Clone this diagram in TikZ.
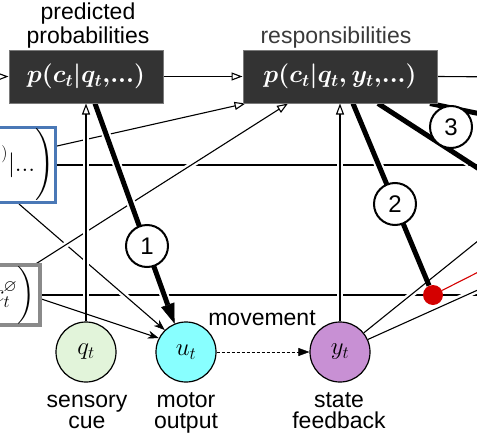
\documentclass[tikz,border=0pt]{standalone}
\usepackage{amsmath,amssymb}
\usepackage{fontspec}
\setmainfont{Liberation Sans}
\usetikzlibrary{arrows.meta}
\definecolor{qfill}{HTML}{E2F4DA}
\definecolor{ufill}{HTML}{88FFFF}
\definecolor{yfill}{HTML}{C890D4}
\definecolor{boxfill}{HTML}{333333}
\definecolor{boxedge}{HTML}{7A7A7A}
\definecolor{blueedge}{HTML}{4A78B6}
\definecolor{grayedge}{HTML}{8A8A8A}
\definecolor{reddot}{HTML}{D40000}
\definecolor{txtgray}{HTML}{3A3A3A}
\pgfdeclarelayer{edges}
\pgfsetlayers{edges,main}
\begin{document}
\begin{tikzpicture}[x=1pt,y=-1pt,
  dark/.style={draw=boxedge, line width=1pt, fill=boxfill, text=white, minimum height=53pt, inner sep=0pt, font=\fontsize{24}{28}\selectfont\boldmath},
  var/.style={circle, draw=black, line width=1.2pt, minimum size=60pt, inner sep=0pt, font=\fontsize{24}{28}\selectfont},
  lbl/.style={font=\fontsize{23}{21}\selectfont, align=center, inner sep=0pt, anchor=base},
  num/.style={circle, draw=black, fill=white, line width=2pt, minimum size=42pt, inner sep=0pt, font=\fontsize{24}{28}\selectfont},
  leftbox/.style={fill=white, line width=3.5pt, anchor=east, minimum height=53pt, inner ysep=0pt, font=\fontsize{24}{28}\selectfont},
  thinln/.style={line width=1.1pt, preaction={draw=white, line width=6pt, -, shorten <=12pt, shorten >=14pt}},
  thickln/.style={line width=5pt, preaction={draw=white, line width=9pt, -, shorten <=4pt, shorten >=24pt}},
  openarr/.style={-{Triangle[length=11pt,width=8pt,fill=white,line width=1.1pt]}},
  stealtharr/.style={-{Stealth[length=11pt,width=8pt,line width=0.5pt]}},
  bigarr/.style={-{Triangle[length=20pt,width=14pt,line width=0.5pt]}},
  redln/.style={draw=reddot, line width=1.1pt},
  dasharr/.style={line width=1pt, dash pattern=on 3pt off 2pt, -{Triangle[length=11pt,width=8pt,line width=0.5pt]}}
]
\useasboundingbox (0,0) rectangle (477,434);
\clip (0,0) rectangle (477,434);

% boxes and labels
\node[dark, minimum width=154pt] (b1) at (86,76.5) {$p(c_t|q_t{,}{.}{.}{.})$};
\node[dark, minimum width=194pt] (b2) at (340,76.5) {$p(c_t|q_t,y_t{,}{.}{.}{.})$};
\node[lbl, font=\fontsize{23}{24}\selectfont] (lp) at (88,43) {predicted\\probabilities};
\node[lbl, text=txtgray] (lr) at (336,43) {responsibilities};

\node[leftbox, draw=blueedge, inner xsep=1pt] (bl) at (57,165) {$p\Bigg(c_t^{(j)}|{.}{.}{.}\Bigg)$};
\node[leftbox, draw=grayedge, inner xsep=5pt] (gr) at (41.5,295) {$p\bigg(c^{\varnothing}_t\bigg)$};

\node[var, fill=qfill] (q) at (86,352) {$q_t$};
\node[var, fill=ufill] (u) at (186,352) {$u_t$};
\node[var, fill=yfill] (y) at (340,352) {$y_t$};
\node[lbl] (lq) at (87,428) {sensory\\cue};
\node[lbl] (lu) at (186,428) {motor\\output};
\node[lbl] (ly) at (339,428) {state\\feedback};
\node[lbl] (mv) at (262,325) {movement};

\node[num] (n1) at (147,246) {1};
\node[num] (n2) at (395,204) {2};
\node[num] (n3) at (451,127) {3};
\node[circle, fill=reddot, minimum size=20pt, inner sep=0pt] (rd) at (433,295) {};

\coordinate (inL) at (-30,77);
\coordinate (outR1) at (510,77);
\coordinate (outH1) at (510,165);
\coordinate (outH2) at (510,295);
\coordinate (outD1) at (540,191);
\coordinate (outD2) at (540,262);
\coordinate (outA) at (490,176);
\coordinate (outB) at (510,120);
\coordinate (outR) at (510,256);

\begin{pgfonlayer}{edges}
\clip (0,0) rectangle (477,434);
% horizontal flows
\draw[thinln, openarr] (inL) -- (b1.west);
\draw[thinln, openarr] (b1.east) -- (b2.west);
\draw[thinln] (b2.east) -- (outR1);
\draw[thinln] (bl.east) -- (outH1);
\draw[thinln] (gr.east) -- (outH2);
% diagonals
\draw[thinln, openarr] ([yshift=19pt]bl.east) -- ([xshift=3pt]b2.south west);
\draw[thinln, stealtharr] ([xshift=-38pt]bl.south east) -- (u.134);
\draw[thinln, openarr] ([xshift=-5pt]gr.north east) -- ([xshift=-52pt]b2.south);
\draw[thinln, stealtharr] ([yshift=-4pt]gr.east) -- (u.153);
\draw[thinln] (y) -- (outD1);
\draw[thinln] (y) -- (outD2);
% verticals
\draw[thinln, openarr] (q) -- (q |- b1.south);
\draw[thinln, openarr] (y) -- (b2.south);
% thick
\draw[thickln, bigarr] ([xshift=9pt]b1.south) -- (u.112);
\draw[thickln] ([xshift=13pt]b2.south) -- (rd);
\draw[thickln] ([xshift=38pt]b2.south) -- (outA);
\draw[thickln] ([xshift=90pt]b2.south) -- (outB);
\draw[redln] (rd) -- (outR);
\draw[dasharr] (u) -- (y);
\end{pgfonlayer}
\end{tikzpicture}
\end{document}
